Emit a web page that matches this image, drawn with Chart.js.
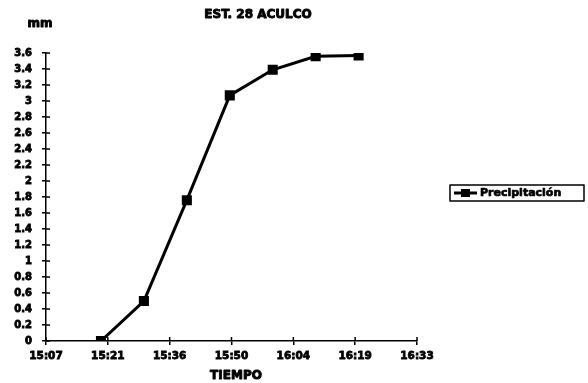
<!DOCTYPE html>
<html>
<head>
<meta charset="utf-8">
<script src="https://cdn.jsdelivr.net/npm/chart.js@4/dist/chart.umd.min.js"></script>
<style>
  html, body { margin: 0; padding: 0; background: #fff; }
  #wrap { width: 588px; height: 383px; position: relative; }
</style>
</head>
<body>
<div id="wrap"><canvas id="c" width="588" height="383"></canvas></div>
<script>
// Accumulated rainfall, station 28 Aculco
const chartTitle = 'EST. 28 ACULCO';
const yUnit = 'mm';
const xTitle = 'TIEMPO';
const seriesName = 'Precipitación';
const times = ['15:20', '15:30', '15:40', '15:50', '16:00', '16:10', '16:20'];
const precipitation = [0, 0.5, 1.76, 3.07, 3.39, 3.56, 3.57];
const xTickLabels = ['15:07', '15:21', '15:36', '15:50', '16:04', '16:19', '16:33'];
const yTickLabels = ['0', '0.2', '0.4', '0.6', '0.8', '1', '1.2', '1.4', '1.6', '1.8', '2', '2.2', '2.4', '2.6', '2.8', '3', '3.2', '3.4', '3.6'];

const toMin = s => { const [h, m] = s.split(':').map(Number); return h * 60 + m; };
// time axis: starts at 15:07.2, major unit of 0.01 day (14.4 min)
const axisStart = toMin('15:07') + 0.2;
const axisStep = 14.4;
const xTickValues = xTickLabels.map((_, i) => axisStart + i * axisStep);

const FONT = 'DejaVu Sans';

// heavy text: fill plus a thin stroke of the same colour
function heavyText(ctx, txt, x, y, w) {
  ctx.lineWidth = w;
  ctx.strokeText(txt, x, y);
  ctx.fillText(txt, x, y);
}

const crossTicks = {
  id: 'crossTicks',
  afterDraw(chart) {
    const ctx = chart.ctx;
    const xs = chart.scales.x, ys = chart.scales.y;
    ctx.save();
    ctx.strokeStyle = '#000';
    ctx.lineWidth = 1.5;
    ys.ticks.forEach(t => {
      const y = ys.getPixelForValue(t.value);
      ctx.beginPath(); ctx.moveTo(ys.right, y); ctx.lineTo(ys.right + 4, y); ctx.stroke();
    });
    xs.ticks.forEach(t => {
      const x = xs.getPixelForValue(t.value);
      ctx.beginPath(); ctx.moveTo(x, xs.top); ctx.lineTo(x, xs.top - 4); ctx.stroke();
    });
    // texts
    ctx.fillStyle = '#000';
    ctx.textAlign = 'center';
    ctx.textBaseline = 'middle';
    ctx.lineJoin = 'round';
    ctx.font = 'bold 12px ' + FONT;
    heavyText(ctx, chartTitle, 258, 15, 0.9);
    ctx.font = 'bold 12px ' + FONT;
    heavyText(ctx, yUnit, 40, 24, 0.9);
    ctx.font = 'bold 12px ' + FONT;
    heavyText(ctx, xTitle, 236, 376, 0.9);
    // legend
    const lx = 450, ly = 185, lw = 134, lh = 16;
    ctx.lineWidth = 1.5;
    ctx.strokeRect(lx, ly, lw, lh);
    const my = ly + lh / 2;
    ctx.lineWidth = 3;
    ctx.beginPath(); ctx.moveTo(lx + 4, my); ctx.lineTo(lx + 27, my); ctx.stroke();
    ctx.fillRect(lx + 11, my - 4, 9, 8);
    ctx.textAlign = 'left';
    ctx.font = 'bold 11px ' + FONT;
    heavyText(ctx, seriesName, lx + 30, my + 0.5, 0.7);
    ctx.restore();
  }
};

new Chart(document.getElementById('c'), {
  type: 'line',
  data: {
    datasets: [{
      label: seriesName,
      data: times.map((t, i) => ({ x: toMin(t), y: precipitation[i] })),
      borderColor: '#000',
      backgroundColor: '#000',
      borderWidth: 3,
      pointStyle: 'rect',
      pointRadius: 5,
      pointBackgroundColor: '#000',
      pointBorderColor: '#000',
      tension: 0
    }]
  },
  options: {
    responsive: false,
    animation: false,
    events: [],
    layout: { padding: { left: 0, right: 171, top: 53, bottom: 0 } },
    plugins: { legend: { display: false }, title: { display: false }, tooltip: { enabled: false } },
    scales: {
      x: {
        type: 'linear',
        min: xTickValues[0],
        max: xTickValues[xTickValues.length - 1],
        afterBuildTicks(scale) { scale.ticks = xTickValues.map(v => ({ value: v })); },
        afterFit(scale) { scale.height = 42; },
        ticks: {
          autoSkip: false,
          maxRotation: 0,
          padding: 5,
          color: '#000',
          textStrokeColor: '#000',
          textStrokeWidth: 0.8,
          font: { family: FONT, weight: 'bold', size: 10.5 },
          callback: (v, i) => xTickLabels[i]
        },
        grid: { drawOnChartArea: false, drawTicks: true, tickLength: 4, color: '#000', lineWidth: 1.5 },
        border: { display: true, color: '#000', width: 1.5 }
      },
      y: {
        min: 0,
        max: 3.6,
        afterBuildTicks(scale) { scale.ticks = yTickLabels.map(s => ({ value: parseFloat(s) })); },
        afterFit(scale) { scale.width = 46; },
        ticks: {
          autoSkip: false,
          padding: 10,
          color: '#000',
          textStrokeColor: '#000',
          textStrokeWidth: 0.8,
          font: { family: FONT, weight: 'bold', size: 10 },
          callback: (v, i) => yTickLabels[i]
        },
        grid: { drawOnChartArea: false, drawTicks: true, tickLength: 4, color: '#000', lineWidth: 1.5 },
        border: { display: true, color: '#000', width: 1.5 }
      }
    }
  },
  plugins: [crossTicks]
});
</script>
</body>
</html>
